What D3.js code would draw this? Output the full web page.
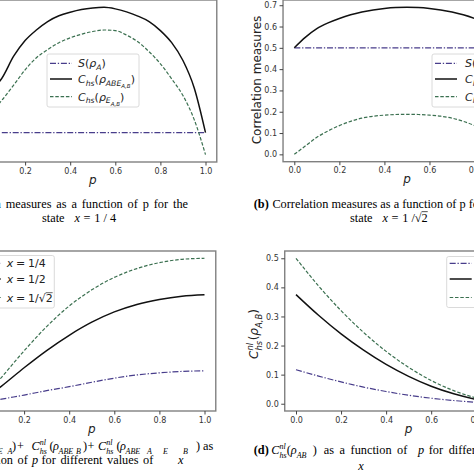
<!DOCTYPE html>
<html><head><meta charset="utf-8">
<script src="https://cdn.jsdelivr.net/npm/d3@7/dist/d3.min.js"></script>
<style>body{margin:0;background:#fff}svg{display:block}</style>
</head><body>
<svg id="c" width="474" height="474"></svg>
<script>
// ---------------- data ----------------
const X_TICKS = [0, 0.2, 0.4, 0.6, 0.8, 1.0];
// panel (a): x = 1/4
const P_A = [0, 0.09, 0.15, 0.2, 0.25, 0.3, 0.35, 0.4, 0.45, 0.5, 0.55, 0.6, 0.65, 0.7, 0.75, 0.8, 0.85, 0.9, 0.95, 1.0];
const A_BLACK = [0.25, 0.290, 0.371, 0.422, 0.457, 0.485, 0.504, 0.516, 0.525, 0.530, 0.532, 0.527, 0.517, 0.503, 0.485, 0.455, 0.415, 0.356, 0.265, 0.117];
const A_GREEN = [0.15, 0.218, 0.275, 0.325, 0.365, 0.392, 0.415, 0.431, 0.443, 0.452, 0.457, 0.455, 0.440, 0.418, 0.385, 0.345, 0.295, 0.240, 0.160, 0.044];
const A_S_P = [0, 1];
const A_S = [0.117, 0.117];
// panel (b): x = 1/sqrt2
const P_B = [0, 0.05, 0.1, 0.15, 0.2, 0.25, 0.3, 0.35, 0.4, 0.45, 0.5, 0.55, 0.6, 0.65, 0.7, 0.75, 0.8, 0.85, 0.9, 0.95, 1.0];
const B_BLACK = [0.5, 0.55, 0.59, 0.617, 0.638, 0.655, 0.668, 0.678, 0.685, 0.689, 0.69, 0.689, 0.685, 0.678, 0.668, 0.655, 0.638, 0.617, 0.59, 0.55, 0.5];
const B_GREEN = [0, 0.04, 0.08, 0.11, 0.135, 0.155, 0.17, 0.179, 0.184, 0.187, 0.188, 0.187, 0.184, 0.179, 0.17, 0.155, 0.135, 0.11, 0.08, 0.04, 0];
const B_S_P = [0, 1];
const B_S = [0.5, 0.5];
const B_Y_TICKS = [0, 0.1, 0.2, 0.3, 0.4, 0.5, 0.6, 0.7];
// panels (c), (d)
const P_CD = [0, 0.1, 0.2, 0.3, 0.4, 0.5, 0.6, 0.7, 0.8, 0.9, 1.0];
const C_X14 = [0.01, 0.041, 0.069, 0.099, 0.126, 0.156, 0.184, 0.206, 0.22, 0.23, 0.234];
const C_X12 = [0.02, 0.13, 0.255, 0.372, 0.476, 0.565, 0.635, 0.686, 0.72, 0.742, 0.752];
const C_X1R2 = [0.02, 0.19, 0.37, 0.535, 0.675, 0.785, 0.87, 0.93, 0.97, 0.993, 1.0];
const D_X14 = [0.117, 0.095, 0.075, 0.057, 0.042, 0.029, 0.019, 0.011, 0.005, 0.001, 0.0];
const D_X12 = [0.375, 0.304, 0.24, 0.184, 0.135, 0.094, 0.06, 0.034, 0.015, 0.004, 0.0];
const D_X1R2 = [0.5, 0.405, 0.32, 0.245, 0.18, 0.125, 0.08, 0.045, 0.02, 0.005, 0.0];
const D_Y_TICKS = [0, 0.1, 0.2, 0.3, 0.4, 0.5];

// ---------------- styles ----------------
const STY = {
  blue:  {stroke: '#483d8b', w: 1.2, dash: '6,1.8,1.3,1.8'},
  black: {stroke: '#111111', w: 1.5, dash: null},
  green: {stroke: '#3b7050', w: 1.2, dash: '3.5,1.8'}
};
const svg = d3.select('#c');
const defs = svg.append('defs');

function rich(parent, x, y, segs, opt) {
  const size = opt.size, fam = opt.family || 'DejaVu Sans', fill = opt.fill || '#000';
  const g = parent.append('g').attr('transform', `translate(${x},${y})` + (opt.rot ? ` rotate(${opt.rot})` : ''));
  const inner = g.append('g');
  let cx = 0, prevStart = 0;
  segs.forEach(s => {
    const fs = size * (s.s || 1);
    if (s.at !== undefined) cx = s.at;
    cx += (s.pre || 0) * size;
    const dy = (s.dy || 0) * size;
    const t = inner.append('text').text(s.t)
      .attr('font-family', s.f || fam).attr('font-size', fs)
      .attr('font-style', s.i ? 'italic' : 'normal')
      .attr('font-weight', s.b ? 'bold' : 'normal')
      .attr('fill', fill).attr('y', dy);
    if (opt.ws) t.attr('word-spacing', opt.ws);
    const w = t.node().getComputedTextLength();
    const sx = s.stack ? prevStart : cx;
    t.attr('x', sx);
    if (s.ov) inner.append('line').attr('x1', sx).attr('x2', sx + w)
      .attr('y1', dy - 0.8 * fs).attr('y2', dy - 0.8 * fs).attr('stroke', fill).attr('stroke-width', 0.7);
    if (s.stack) cx = Math.max(cx, sx + w); else { prevStart = sx; cx = sx + w; }
  });
  const shift = opt.anchor === 'end' ? -cx : opt.anchor === 'middle' ? -cx / 2 : 0;
  inner.attr('transform', `translate(${shift},0)`);
  return g;
}

function panel(cfg, idx) {
  const left = cfg.x0 - 0.05 * cfg.unit, right = cfg.x0 + 1.05 * cfg.unit;
  const x = d3.scaleLinear().domain([-0.05, 1.05]).range([left, right]);
  const all = cfg.series.flatMap(s => s.v);
  const [mn, mx] = d3.extent(all);
  const pad = (mx - mn) * 0.05;
  const y = d3.scaleLinear().domain([mn - pad, mx + pad]).range([cfg.bottom, cfg.top]);
  const g = svg.append('g');
  const cid = 'clip' + idx;
  defs.append('clipPath').attr('id', cid).append('rect')
    .attr('x', left).attr('y', cfg.top).attr('width', right - left).attr('height', cfg.bottom - cfg.top);
  g.append('rect').attr('x', left).attr('y', cfg.top).attr('width', right - left).attr('height', cfg.bottom - cfg.top)
    .attr('fill', '#fff');
  const lg = g.append('g').attr('clip-path', `url(#${cid})`);
  cfg.series.forEach(s => {
    const st = STY[s.style];
    const line = d3.line().x((d, i) => x(s.p[i])).y(d => y(d)).curve(d3.curveMonotoneX);
    lg.append('path').attr('d', line(s.v)).attr('fill', 'none')
      .attr('stroke', st.stroke).attr('stroke-width', st.w)
      .attr('stroke-dasharray', st.dash);
  });
  g.append('rect').attr('x', left).attr('y', cfg.top).attr('width', right - left).attr('height', cfg.bottom - cfg.top)
    .attr('fill', 'none').attr('stroke', '#808080').attr('stroke-width', 1.4);
  const xa = g.append('g').attr('transform', `translate(0,${cfg.bottom})`)
    .call(d3.axisBottom(x).tickValues(X_TICKS).tickFormat(d3.format('.1f')).tickSize(3.5).tickPadding(2.5));
  xa.select('.domain').remove();
  xa.selectAll('line').attr('stroke', '#444');
  xa.selectAll('text').attr('font-family', 'DejaVu Sans').attr('font-size', 8).attr('fill', '#333');
  if (cfg.yTicks) {
    const ya = g.append('g').attr('transform', `translate(${left},0)`)
      .call(d3.axisLeft(y).tickValues(cfg.yTicks).tickFormat(d3.format('.1f')).tickSize(3.5).tickPadding(2.5));
    ya.select('.domain').remove();
    ya.selectAll('line').attr('stroke', '#444');
    ya.selectAll('text').attr('font-family', 'DejaVu Sans').attr('font-size', 8).attr('fill', '#333');
  }
  rich(g, cfg.x0 + 0.5 * cfg.unit, cfg.bottom + 21.5, [{t: 'p', i: 1}], {size: 12, anchor: 'middle', fill: '#222'});
  return {x, y};
}

panel({x0: -20, unit: 225.5, top: 0, bottom: 162, series: [
  {p: A_S_P, v: A_S, style: 'blue'}, {p: P_A, v: A_BLACK, style: 'black'}, {p: P_A, v: A_GREEN, style: 'green'}]}, 0);
panel({x0: 294.3, unit: 225.3, top: 0, bottom: 161.7, yTicks: B_Y_TICKS, series: [
  {p: B_S_P, v: B_S, style: 'blue'}, {p: P_B, v: B_BLACK, style: 'black'}, {p: P_B, v: B_GREEN, style: 'green'}]}, 1);
panel({x0: -21, unit: 225.5, top: 251, bottom: 411, series: [
  {p: P_CD, v: C_X14, style: 'blue'}, {p: P_CD, v: C_X12, style: 'black'}, {p: P_CD, v: C_X1R2, style: 'green'}]}, 2);
panel({x0: 296, unit: 225.3, top: 251, bottom: 411, yTicks: D_Y_TICKS, series: [
  {p: P_CD, v: D_X14, style: 'blue'}, {p: P_CD, v: D_X12, style: 'black'}, {p: P_CD, v: D_X1R2, style: 'green'}]}, 3);

// y labels
rich(svg, 261, 80, [{t: 'Correlation measures'}], {size: 12, rot: -90, anchor: 'middle', fill: '#222'});
rich(svg, 258, 334, [{t: 'C', i: 1}, {t: 'nl', i: 1, s: 0.7, dy: -0.45}, {t: 'hs', i: 1, s: 0.7, dy: 0.3, stack: 1},
  {t: '(', pre: 0.05}, {t: 'ρ', i: 1}, {t: 'A,B', i: 1, s: 0.7, dy: 0.3}, {t: ')'}],
  {size: 12, rot: -90, anchor: 'middle', fill: '#222'});

// legends
function legend(bx, by, bw, bh, rows, tx) {
  const g = svg.append('g');
  g.append('rect').attr('x', bx).attr('y', by).attr('width', bw).attr('height', bh).attr('rx', 2)
    .attr('fill', 'rgba(255,255,255,0.85)').attr('stroke', '#d0d0d0').attr('stroke-width', 0.8);
  rows.forEach(r => {
    const st = STY[r.style];
    g.append('line').attr('x1', bx + 3).attr('x2', bx + 25).attr('y1', r.y).attr('y2', r.y)
      .attr('stroke', st.stroke).attr('stroke-width', st.w).attr('stroke-dasharray', st.dash);
    rich(g, bx + tx, r.y + 4, r.segs, {size: 11, fill: '#222'});
  });
}
const SEG_S = [{t: 'S', i: 1}, {t: '('}, {t: 'ρ', i: 1}, {t: 'A', i: 1, s: 0.7, dy: 0.25}, {t: ')'}];
const SEG_ABE = [{t: 'C', i: 1}, {t: 'hs', i: 1, s: 0.7, dy: 0.25}, {t: '('}, {t: 'ρ', i: 1},
  {t: 'ABE', i: 1, s: 0.7, dy: 0.25}, {t: 'A,B', i: 1, s: 0.5, dy: 0.45}, {t: ')'}];
const SEG_E = [{t: 'C', i: 1}, {t: 'hs', i: 1, s: 0.7, dy: 0.25}, {t: '('}, {t: 'ρ', i: 1},
  {t: 'E', i: 1, s: 0.7, dy: 0.25}, {t: 'A,B', i: 1, s: 0.5, dy: 0.45}, {t: ')'}];
const rowsA = [{y: 63.3, style: 'blue', segs: SEG_S}, {y: 79, style: 'black', segs: SEG_ABE}, {y: 96.7, style: 'green', segs: SEG_E}];
legend(47, 54, 92, 53, rowsA, 31);
legend(432, 54, 92, 53, rowsA, 33);
const segX = v => [{t: 'x', i: 1}, {t: '=', pre: 0.25}, {t: v, pre: 0.25}];
const rowsC = [
  {y: 263.3, style: 'blue', segs: segX('1/4')},
  {y: 279, style: 'black', segs: segX('1/2')},
  {y: 297.5, style: 'green', segs: [{t: 'x', i: 1}, {t: '=', pre: 0.25}, {t: '1/√', pre: 0.25}, {t: '2', ov: 1}]}];
legend(-24.3, 255.5, 78.6, 52.5, rowsC, 31);
legend(446.7, 256.5, 78.6, 51, rowsC, 31);

// captions
const CF = 'Liberation Serif';
const SUB = {i: 1, s: 0.65, dy: 0.3};
rich(svg, 188, 207.5, [{t: '(a)', b: 1}, {t: 'Correlation measures as a function of p for the', pre: 0.3}], {size: 12.3, family: CF, anchor: 'end', ws: 1.8});
rich(svg, 42, 221.5, [{t: 'state'}, {t: 'x', i: 1, pre: 0.8}, {t: '=', pre: 0.3}, {t: '1 / 4', pre: 0.3}], {size: 12.3, family: CF});
rich(svg, 253.7, 207.5, [{t: '(b)', b: 1}, {t: 'Correlation measures as a function of p for the', pre: 0.3}], {size: 12.3, family: CF});
rich(svg, 350, 221.5, [{t: 'state'}, {t: 'x', i: 1, pre: 0.8}, {t: '=', pre: 0.3}, {t: '1 /√', pre: 0.3}, {t: '2', ov: 1}], {size: 12.3, family: CF});
// (c) line 1, laid out at absolute x positions
const CNL = (at) => [{t: 'C', i: 1, at: at}, {t: 'nl', i: 1, s: 0.65, dy: -0.4}, {t: 'hs', i: 1, s: 0.65, dy: 0.3, stack: 1}];
rich(svg, 0, 450, [{t: '(c)', b: 1, at: -58}].concat(CNL(-40)).concat([
  {t: '(', at: -20}, {t: 'ρ', i: 1, at: -16}, Object.assign({t: 'ABE', at: -12}, SUB), Object.assign({t: 'A', at: 7.5}, SUB),
  {t: ')', at: 12}, {t: '+', at: 17}]).concat(CNL(31.5)).concat([
  {t: '(', at: 49.5}, {t: 'ρ', i: 1, at: 53}, Object.assign({t: 'ABE', at: 58.5}, SUB), Object.assign({t: 'B', at: 76}, SUB),
  {t: ')', at: 83}, {t: '+', at: 87.5}]).concat(CNL(98)).concat([
  {t: '(', at: 116.5}, {t: 'ρ', i: 1, at: 120}, Object.assign({t: 'ABE', at: 125.5}, SUB), Object.assign({t: 'A', at: 147}, SUB),
  Object.assign({t: 'E', at: 163}, SUB), Object.assign({t: 'B', at: 183}, SUB), {t: ')', at: 196}, {t: 'as', at: 203}]),
  {size: 12.3, family: CF});
rich(svg, 0, 464, [{t: 'a function of', at: -38}, {t: 'p', i: 1, at: 32}, {t: 'for different values of', at: 41.5},
  {t: 'x', i: 1, at: 178}], {size: 12.3, family: CF, ws: 1.5});
// (d) line 1
rich(svg, 253.7, 454, [{t: '(d)', b: 1, at: 0}].concat(CNL(17.5)).concat([
  {t: '(', at: 33}, {t: 'ρ', i: 1, at: 37}, Object.assign({t: 'AB', at: 43}, SUB), {t: ')', at: 59},
  {t: 'as a function of', at: 70}, {t: 'p', i: 1, at: 164.3}, {t: 'for', at: 175}, {t: 'different values of', at: 195}]),
  {size: 12.3, family: CF, ws: 2.5});
rich(svg, 361, 470, [{t: 'x', i: 1}], {size: 12.3, family: CF, anchor: 'middle'});
</script>
</body></html>
